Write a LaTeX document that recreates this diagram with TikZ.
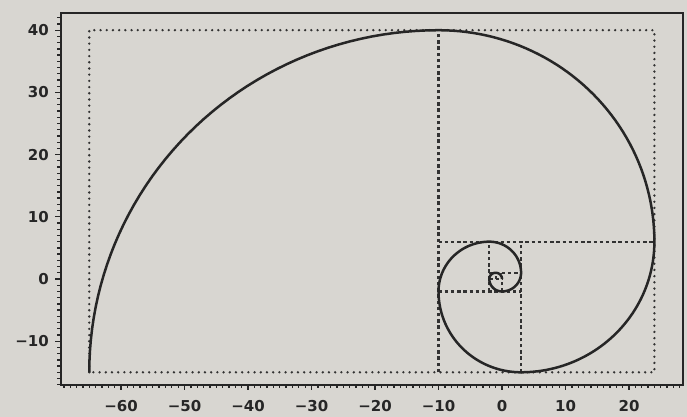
\documentclass[tikz,border=0pt]{standalone}
\usepackage{fontspec}
\setmainfont{DejaVu Sans}
\definecolor{paper}{RGB}{216,214,209}
\definecolor{ink}{RGB}{38,38,38}
\definecolor{dotink}{RGB}{50,50,50}
\tikzset{
  spine/.style={draw=ink, line width=1.8pt},
  tickmark/.style={draw=ink, line width=1.3pt},
  ticklabel/.style={font=\fontsize{15}{15}\selectfont\bfseries, text=ink, inner sep=0pt},
  outerdots/.style={draw=dotink, line width=2.6pt, line cap=round, dash pattern=on 0pt off 6.2pt},
  innerdash/.style={draw=dotink, line width=2.2pt, dash pattern=on 3.4pt off 2.8pt},
  spiral/.style={draw=ink, line width=2.5pt, line join=round},
}
\begin{document}
\begin{tikzpicture}[x=1pt,y=1pt]
\fill[paper] (0,0) rectangle (687,417);
\useasboundingbox (0,0) rectangle (687,417);
\begin{scope}[shift={(502pt,138pt)}, x=6.35pt, y=6.22pt]
  % axes corners
  \coordinate (bl) at (-69.45,-17.04);
  \coordinate (tr) at (28.5,42.77);
  % outer rectangle (dotted)
  \coordinate (r1) at (-65,-15);
  \coordinate (r2) at (24,40);
  \draw[outerdots] (r1) rectangle (r2);
  % inner square edges (dashed)
  \draw[innerdash] (-10,-15) -- (-10,40);
  \draw[innerdash] (-10,6) -- (24,6);
  \draw[innerdash] (3,-15) -- (3,6);
  \draw[innerdash] (-10,-2) -- (3,-2);
  \draw[innerdash] (-2,-2) -- (-2,6);
  \draw[innerdash] (-2,1) -- (3,1);
  \draw[innerdash] (0,-2) -- (0,1);
  \draw[innerdash] (-2,0) -- (0,0);
  \draw[innerdash] (-1,0) -- (-1,1);
  % spiral
  \draw[spiral]
    \foreach \cx/\cy/\r/\a/\b in {-10/-15/55/180/90, -10/6/34/90/0, 3/6/21/0/-90,
      3/-2/13/-90/-180, -2/-2/8/180/90, -2/1/5/90/0, 0/1/3/0/-90,
      0/0/2/-90/-180, -1/0/1/180/90, -1/0/1/90/0}
    { plot[domain=\a:\b, samples=50] ({\cx+\r*cos(\x)},{\cy+\r*sin(\x)}) };
  % frame
  \draw[spine] (bl) rectangle (tr);
  % x ticks
  \foreach \i in {-69,...,28} {
    \draw[tickmark] (\i,-17.04) -- ++(0pt,-3.5pt);
  }
  \foreach \i in {-60,-50,...,20} {
    \draw[tickmark] (\i,-17.04) -- ++(0pt,-5.5pt);
  }
  \foreach \i/\t in {-60/−60,-50/−50,-40/−40,-30/−30,-20/−20,-10/−10,0/0,10/10,20/20} {
    \node[ticklabel, anchor=north] (xl\i) at ([yshift=-15pt]\i,-17.04) {\t};
  }
  % y ticks
  \foreach \j in {-17,...,42} {
    \draw[tickmark] (-69.45,\j) -- ++(-3.5pt,0pt);
  }
  \foreach \j in {-10,0,...,40} {
    \draw[tickmark] (-69.45,\j) -- ++(-5.5pt,0pt);
  }
  \foreach \j/\t in {-10/−10,0/0,10/10,20/20,30/30,40/40} {
    \node[ticklabel, anchor=east] (yl\j) at ([xshift=-12pt]-69.45,\j) {\t};
  }
\end{scope}
\end{tikzpicture}
\end{document}
